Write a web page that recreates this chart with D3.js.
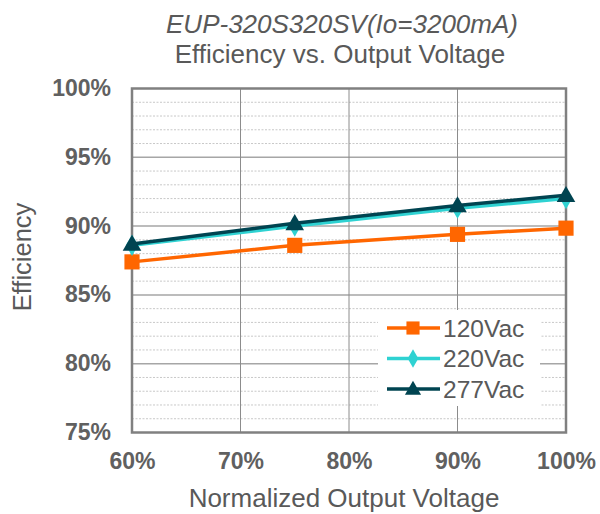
<!DOCTYPE html>
<html>
<head>
<meta charset="utf-8">
<script src="https://cdn.jsdelivr.net/npm/d3@7"></script>
<style>
  body { margin: 0; background: #fff; }
  svg { display: block; font-family: "Liberation Sans", Arial, sans-serif; }
</style>
</head>
<body>
<script>
// Chart data
let voltages = [60, 75, 90, 100];
let seriesNames = ["120Vac", "220Vac", "277Vac"];
let eff120 = [87.4, 88.6, 89.4, 89.85];
let eff220 = [88.6, 90.0, 91.3, 92.0];
let eff277 = [88.7, 90.2, 91.5, 92.25];
let xTicks = [60, 70, 80, 90, 100];
let yTicks = [75, 80, 85, 90, 95, 100];

let series = [
    { name: seriesNames[0], values: eff120, color: "#ff6600", symbol: d3.symbolSquare, size: 230 },
    { name: seriesNames[1], values: eff220, color: "#2fd2d2", symbol: d3.symbolDiamond, size: 130 },
    { name: seriesNames[2], values: eff277, color: "#004451", symbol: d3.symbolTriangle, size: 150 }
];

let width = 600, height = 514;
let margin = { top: 88.5, right: 34, bottom: 81.5, left: 132 };
let textColor = "#595959";

let x = d3.scaleLinear().domain([60, 100]).range([margin.left, width - margin.right]);
let y = d3.scaleLinear().domain([75, 100]).range([height - margin.bottom, margin.top]);

let svg = d3.select("body")
    .append("svg")
    .attr("width", width)
    .attr("height", height);

// Minor gridlines (every 1%)
let minor = d3.range(76, 100).filter(v => v % 5 !== 0);
svg.append("g")
    .selectAll("line")
    .data(minor)
    .enter()
    .append("line")
    .attr("x1", x(60)).attr("x2", x(100))
    .attr("y1", d => y(d)).attr("y2", d => y(d))
    .attr("stroke", "#c8c8c8")
    .attr("stroke-width", 1)
    .attr("stroke-dasharray", "2,1.5");

// Major horizontal gridlines
svg.append("g")
    .selectAll("line")
    .data(yTicks.slice(1, -1))
    .enter()
    .append("line")
    .attr("x1", x(60)).attr("x2", x(100))
    .attr("y1", d => y(d)).attr("y2", d => y(d))
    .attr("stroke", "#a6a6a6")
    .attr("stroke-width", 1.5);

// Vertical gridlines
svg.append("g")
    .selectAll("line")
    .data(xTicks.slice(1, -1))
    .enter()
    .append("line")
    .attr("x1", d => x(d)).attr("x2", d => x(d))
    .attr("y1", y(75)).attr("y2", y(100))
    .attr("stroke", "#8c8c8c")
    .attr("stroke-width", 1);

// Frame
svg.append("rect")
    .attr("x", x(60)).attr("y", y(100))
    .attr("width", x(100) - x(60))
    .attr("height", y(75) - y(100))
    .attr("fill", "none")
    .attr("stroke", "#808080")
    .attr("stroke-width", 2.5);

// Axes (labels only)
let yAxis = svg.append("g")
    .attr("transform", `translate(${x(60) - 21}, 0)`)
    .call(d3.axisLeft(y).tickValues(yTicks).tickSize(0).tickFormat(d => d + "%"));
let xAxis = svg.append("g")
    .attr("transform", `translate(0, ${y(75) + 20})`)
    .call(d3.axisBottom(x).tickValues(xTicks).tickSize(0).tickFormat(d => d + "%"));

[yAxis, xAxis].forEach(a => {
    a.select(".domain").remove();
    a.attr("font-size", null);
    a.selectAll("text")
        .attr("fill", "#606060")
        .style("font-size", "23px")
        .style("font-weight", "bold")
        .style("font-family", "'Liberation Sans', Arial, sans-serif");
});
yAxis.selectAll("text").attr("dy", "0.3em").attr("x", 0);
xAxis.selectAll("text").attr("dy", "0.71em").attr("y", 0);

// Lines and markers
let line = d3.line()
    .x((d, i) => x(voltages[i]))
    .y(d => y(d));

series.forEach(s => {
    svg.append("path")
        .attr("d", line(s.values))
        .attr("fill", "none")
        .attr("stroke", s.color)
        .attr("stroke-width", 3.5);
    svg.append("g")
        .selectAll("path")
        .data(s.values)
        .enter()
        .append("path")
        .attr("d", d3.symbol().type(s.symbol).size(s.size))
        .attr("transform", (d, i) => `translate(${x(voltages[i])}, ${y(d) + (s.symbol === d3.symbolTriangle ? 1.5 : 0)})`)
        .attr("fill", s.color);
});

// Legend
let legend = svg.append("g").attr("transform", "translate(378, 310)");
legend.append("rect")
    .attr("width", 162).attr("height", 96)
    .attr("fill", "#fff");

let rows = legend.selectAll(".legend")
    .data(series)
    .enter()
    .append("g")
    .attr("class", "legend")
    .attr("transform", (_, i) => `translate(0, ${18 + i * 30.5})`);

rows.append("line")
    .attr("x1", 9).attr("x2", 62)
    .attr("stroke", d => d.color)
    .attr("stroke-width", 3.5);
rows.append("path")
    .attr("d", d => d3.symbol().type(d.symbol).size(d.size * 0.75)())
    .attr("transform", d => `translate(35, ${d.symbol === d3.symbolTriangle ? 1 : 0})`)
    .attr("fill", d => d.color);
rows.append("text")
    .attr("x", 65)
    .attr("dy", "0.36em")
    .attr("fill", textColor)
    .style("font-size", "24.5px")
    .text(d => d.name);

// Titles
svg.append("text")
    .attr("x", 342).attr("y", 33)
    .attr("text-anchor", "middle")
    .attr("fill", textColor)
    .style("font-size", "26px")
    .style("font-style", "italic")
    .text("EUP-320S320SV(Io=3200mA)");
svg.append("text")
    .attr("x", 340).attr("y", 63)
    .attr("text-anchor", "middle")
    .attr("fill", textColor)
    .style("font-size", "26px")
    .text("Efficiency vs. Output Voltage");

svg.append("text")
    .attr("x", 344).attr("y", 507)
    .attr("text-anchor", "middle")
    .attr("fill", textColor)
    .style("font-size", "26px")
    .text("Normalized Output Voltage");

svg.append("text")
    .attr("transform", "translate(31, 257) rotate(-90)")
    .attr("text-anchor", "middle")
    .attr("fill", textColor)
    .style("font-size", "25.5px")
    .text("Efficiency");
</script>
</body>
</html>
